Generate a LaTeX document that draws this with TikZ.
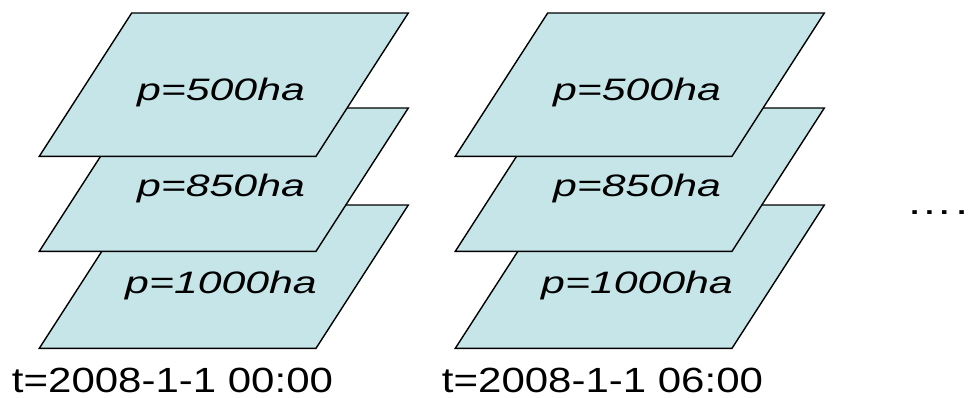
\documentclass[tikz,border=0pt]{standalone}
\usepackage{fontspec}
\setmainfont{Liberation Sans}
\definecolor{layerfill}{RGB}{197,229,232}
% horizontally widened text
\newcommand{\widetext}[2]{\scalebox{#1}[1]{#2}}
\tikzset{
  layer/.style={fill=layerfill, draw=black, line width=1.4pt, line join=miter},
  lvl/.style={anchor=base, inner sep=0pt, font=\fontsize{31}{31}\selectfont\itshape},
  tlab/.style={anchor=base, inner sep=0pt, font=\fontsize{35}{35}\selectfont},
}
\begin{document}
\begin{tikzpicture}[x=1pt,y=-1pt]
\useasboundingbox (0,0) rectangle (974,397);

% two stacks of pressure levels
\foreach \dx/\s in {0/a, 416/b} {
  \begin{scope}[xshift=\dx pt]
    \foreach \top/\txt/\base/\n in {205/p=1000ha/293/3, 108/p=850ha/196/2, 13/p=500ha/100/1} {
      \draw[layer] (131.7,\top) -- (408.3,\top) -- (316,\top+143.3) -- (39.3,\top+143.3) -- cycle;
      \node[lvl] (lev\s\n) at (221,\base) {\widetext{1.38}{\txt}};
    }
  \end{scope}
}

% time stamps
\node[tlab] (ta) at (172.5,392) {\widetext{1.2}{t=2008-1-1 00:00}};
\node[tlab] (tb) at (602.5,392) {\widetext{1.2}{t=2008-1-1 06:00}};

% continuation dots
\node[anchor=base west, inner sep=0pt, font=\fontsize{36}{36}\selectfont] (more) at (906,214) {\widetext{1.3}{……}};
\end{tikzpicture}
\end{document}
